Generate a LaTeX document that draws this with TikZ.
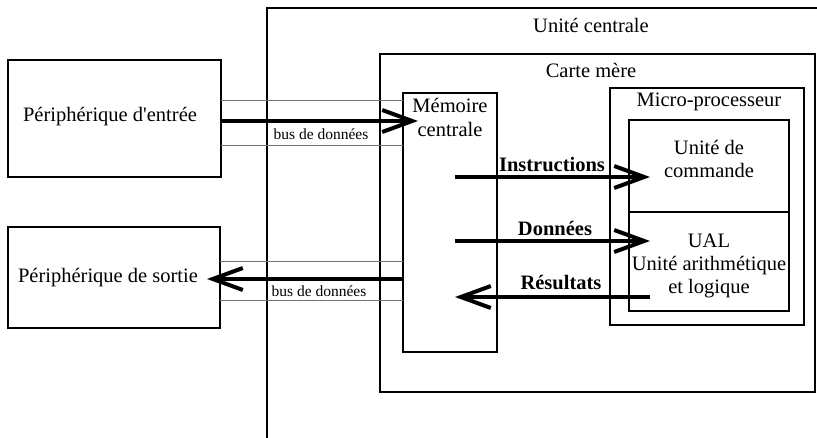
\documentclass[tikz,border=0pt]{standalone}
\usepackage{fontspec}
\setmainfont{Liberation Serif}
\usetikzlibrary{arrows.meta}
\begin{document}
\begin{tikzpicture}[x=1pt,y=-1pt,
  box/.style={draw, line width=1.6pt, inner sep=0pt},
  txt/.style={font=\fontsize{20.5}{24}\selectfont, anchor=base, inner sep=0pt},
  lbl/.style={font=\fontsize{20.5}{24}\selectfont\bfseries, anchor=base, inner sep=0pt},
  smalltxt/.style={font=\fontsize{15.5}{18}\selectfont, anchor=base, inner sep=0pt},
  busarrow/.style={line width=4pt, -{Straight Barb[length=30pt,width=22pt]}},
  thinline/.style={line width=0.8pt, black!55}]
\useasboundingbox (0,0) rectangle (817,438);
% boxes
\draw[line width=1.6pt] (267,440) -- (267,8) -- (820,8);
\node[box, minimum width=435pt, minimum height=338pt] (cm) at (597.5,223) {};
\node[box, minimum width=194pt, minimum height=237pt] (mp) at (707,206.5) {};
\node[box, minimum width=160pt, minimum height=92pt] (uc) at (709,166) {};
\node[box, minimum width=160pt, minimum height=99pt] (ual) at (709,261.5) {};
\node[box, minimum width=94pt, minimum height=259pt] (mem) at (450,222.5) {};
\node[box, minimum width=213pt, minimum height=117pt] (pe) at (114.5,118.5) {};
\node[box, minimum width=212pt, minimum height=101pt] (ps) at (114,277.5) {};
% texts
\node[txt] (tuc) at (591,33) {Unité centrale};
\node[txt] (tcm) at (591,78) {Carte mère};
\node[txt] (tmp) at (709,107) {Micro-processeur};
\node[txt] (tmem1) at (450,113) {Mémoire};
\node[txt] (tmem2) at (450,137) {centrale};
\node[txt] (tcmd1) at (709,155) {Unité de};
\node[txt] (tcmd2) at (709,178) {commande};
\node[txt] (tual1) at (709,248) {UAL};
\node[txt] (tual2) at (709,271) {Unité arithmétique};
\node[txt] (tual3) at (709,294) {et logique};
\node[txt] (tpe) at (110,122) {Périphérique d\textquotesingle entrée};
\node[txt] (tps) at (108,283) {Périphérique de sortie};
\node[lbl] (li) at (552,172) {Instructions};
\node[lbl] (ld) at (555,236) {Données};
\node[lbl] (lr) at (561,290) {Résultats};
\node[smalltxt] (lb1) at (321,140) {bus de données};
\node[smalltxt] (lb2) at (319,297) {bus de données};
% thin bus lines
\draw[thinline] (221,100) -- (403,100);
\draw[thinline] (221,145) -- (403,145);
\draw[thinline] (220,261) -- (403,261);
\draw[thinline] (220,300) -- (403,300);
% arrow end points
\coordinate (e1) at (418,121);
\coordinate (e2) at (207,279);
\coordinate (s3) at (455,177);
\coordinate (e3) at (650,177);
\coordinate (s4) at (455,241);
\coordinate (e4) at (650,241);
\coordinate (s5) at (650,297);
\coordinate (e5) at (455,297);
\draw[busarrow] (pe.east |- e1) -- (e1);
\draw[busarrow] (mem.west |- e2) -- (e2);
\draw[busarrow] (s3) -- (e3);
\draw[busarrow] (s4) -- (e4);
\draw[busarrow] (s5) -- (e5);
\end{tikzpicture}
\end{document}
